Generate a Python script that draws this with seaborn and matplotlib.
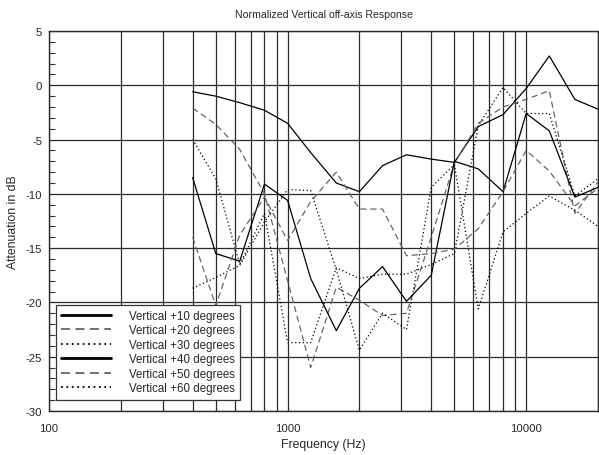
import numpy as np
import pandas as pd
import seaborn as sns
import matplotlib.pyplot as plt
from matplotlib.lines import Line2D
from matplotlib.ticker import LogLocator, NullFormatter, FixedLocator, MultipleLocator

# 1/3 octave centre frequencies
freqs = [400, 500, 630, 800, 1000, 1250, 1600, 2000, 2500, 3150,
         4000, 5000, 6300, 8000, 10000, 12500, 16000, 20000]

vert10 = [-0.6, -1.0, -1.6, -2.3, -3.5, -6.2, -9.0, -9.8, -7.4, -6.4,
          -6.8, -7.1, -3.8, -2.7, -0.3, 2.7, -1.3, -2.2]
vert20 = [-2.1, -3.6, -5.9, -10.0, -18.0, -26.0, -18.6, -19.8, -21.2, -21.0,
          -14.0, -7.2, -3.5, -2.0, -1.3, -0.5, -11.8, -8.9]
vert30 = [-5.0, -8.6, -16.5, -11.8, -23.7, -23.7, -16.8, -17.8, -17.4, -17.4,
          -16.5, -15.5, -3.7, -0.2, -2.6, -2.6, -10.2, -8.6]
vert40 = [-8.5, -15.5, -16.2, -9.1, -10.6, -17.8, -22.6, -18.7, -16.7, -19.9,
          -17.5, -7.0, -7.7, -9.8, -2.6, -4.2, -10.3, -9.4]
vert50 = [-14.0, -20.3, -13.8, -10.3, -14.3, -10.7, -8.0, -11.4, -11.4, -15.7,
          -15.5, -15.1, -13.2, -9.8, -6.0, -7.9, -11.1, -9.5]
vert60 = [-18.7, -17.7, -16.6, -12.6, -9.6, -9.7, -17.0, -24.4, -21.0, -22.5,
          -9.4, -7.3, -20.6, -13.5, -11.8, -10.2, -11.5, -13.0]

labels = ["Vertical +10 degrees", "Vertical +20 degrees", "Vertical +30 degrees",
          "Vertical +40 degrees", "Vertical +50 degrees", "Vertical +60 degrees"]
series = [vert10, vert20, vert30, vert40, vert50, vert60]

styles = [("black", "-"), ("#666666", (0, (5, 3))), ("black", (0, (1, 2))),
          ("black", "-"), ("#666666", (0, (5, 3))), ("black", (0, (1, 2)))]

sns.set_style("white")
plt.rcParams['font.family'] = ['Liberation Sans', 'DejaVu Sans']
plt.rcParams['axes.unicode_minus'] = False

fig = plt.figure(figsize=(5.99, 4.56), dpi=100)
ax = fig.add_axes([49 / 599, 44 / 456, 549 / 599, 380 / 456])

for lab, vals, (col, ls) in zip(labels, series, styles):
    df = pd.DataFrame({"freq": freqs, "dB": vals})
    sns.lineplot(data=df, x="freq", y="dB", ax=ax, color=col, linestyle=ls,
                 linewidth=0.9, zorder=3)

ax.set_xscale("log")
ax.set_xlim(100, 20000)
ax.set_ylim(-30, 5)

ax.xaxis.set_major_locator(FixedLocator([100, 1000, 10000]))
ax.xaxis.set_major_formatter(plt.FuncFormatter(lambda v, p: f"{int(v)}"))
ax.xaxis.set_minor_locator(LogLocator(base=10, subs=np.arange(2, 10)))
ax.xaxis.set_minor_formatter(NullFormatter())
ax.yaxis.set_major_locator(MultipleLocator(5))
ax.yaxis.set_minor_locator(MultipleLocator(1))

ax.grid(True, which="both", axis="x", color="#2a2a2a", linewidth=0.9)
ax.grid(True, which="major", axis="y", color="#2a2a2a", linewidth=0.9)
ax.tick_params(axis="x", which="both", length=0, labelsize=8.2, pad=9)
ax.tick_params(axis="y", which="major", length=0, labelsize=8.2, pad=5)
ax.tick_params(axis="y", which="minor", direction="in", length=4,
               width=0.8, color="#333333", left=True)
for s in ax.spines.values():
    s.set_color("#2a2a2a")
    s.set_linewidth(1.0)

ax.set_xlabel("Frequency (Hz)", fontsize=8.8, labelpad=3)
ax.set_ylabel("Attenuation in dB", fontsize=8.8, labelpad=5)
ax.set_title("Normalized Vertical off-axis Response", fontsize=7.6, pad=10)

handles = [Line2D([0], [0], color=c, linestyle=ls, linewidth=2.0 if ls == "-" else 1.3)
           for c, ls in styles]
leg = ax.legend(handles, labels, loc="lower left", bbox_to_anchor=(0.013, 0.03),
                fontsize=8.3, frameon=True, fancybox=False, framealpha=1,
                edgecolor="#333333", handlelength=4.3, handletextpad=1.6,
                borderpad=0.45, labelspacing=0.22, borderaxespad=0)
leg.get_frame().set_linewidth(0.9)
leg.set_zorder(5)

fig.savefig("out.png", dpi=100)
